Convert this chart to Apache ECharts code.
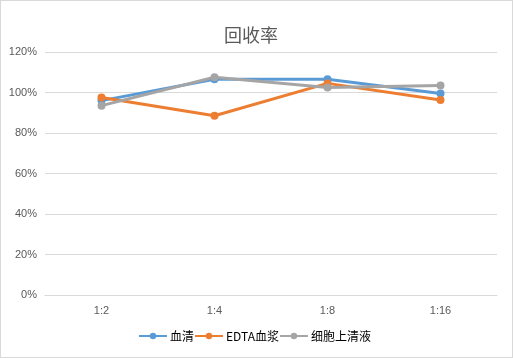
<!DOCTYPE html>
<html><head><meta charset="utf-8">
<script src="https://cdn.jsdelivr.net/npm/echarts@6/dist/echarts.min.js"></script>
<style>html,body{margin:0;padding:0;background:#fff}#c{width:513px;height:358px;box-sizing:border-box;border:1px solid #d9d9d9}</style>
</head><body><div id="c"></div>
<script>
const categories = ['1:2','1:4','1:8','1:16'];
const serum = [96, 106.5, 106.5, 99.5];
const edta = [97.5, 88.5, 104.5, 96.3];
const supernatant = [93.5, 107.5, 102.5, 103.4];
const seriesNames = ['血清','EDTA血浆','细胞上清液'];
const colors = ['#5b9bd5','#ed7d31','#a5a5a5'];
const chart = echarts.init(document.getElementById('c'));
const mk = (name, data, color) => ({
  name, type:'line', data, color, symbol:'circle', symbolSize:8,
  lineStyle:{width:3,color}, itemStyle:{color}
});
chart.setOption({
  animation:false,
  title:{text:'回收率',left:218,top:20,textStyle:{fontFamily:'Noto Sans CJK SC',fontSize:18,fontWeight:'normal',color:'#595959'}},
  legend:{bottom:10,left:132,itemWidth:28,itemHeight:8,itemGap:0,textStyle:{fontFamily:'Noto Sans CJK SC',fontSize:12,color:'#000',padding:[0,0,0,-2]},data:seriesNames},
  grid:{left:44,right:15,top:51,bottom:62},
  xAxis:{type:'category',data:categories,boundaryGap:true,
    axisLine:{lineStyle:{color:'#d9d9d9'}},axisTick:{show:false},
    axisLabel:{color:'#595959',fontSize:11,margin:10,fontFamily:'Liberation Sans'}},
  yAxis:{type:'value',min:0,max:120,interval:20,
    axisLabel:{formatter:'{value}%',color:'#595959',fontSize:11,fontFamily:'Liberation Sans'},
    splitLine:{lineStyle:{color:'#d9d9d9'}},axisLine:{show:false},axisTick:{show:false}},
  series:[mk(seriesNames[0],serum,colors[0]),mk(seriesNames[1],edta,colors[1]),mk(seriesNames[2],supernatant,colors[2])]
});
</script></body></html>
